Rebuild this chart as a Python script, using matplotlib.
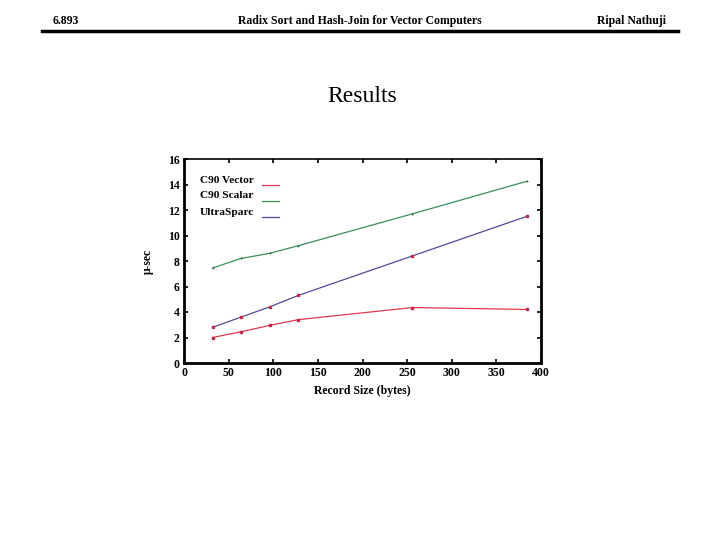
import matplotlib
matplotlib.use("Agg")
import matplotlib.pyplot as plt
from matplotlib.lines import Line2D

record_size = [32, 64, 96, 128, 256, 384]
c90_vector = [2.0, 2.45, 2.95, 3.4, 4.35, 4.2]
c90_scalar = [7.45, 8.2, 8.6, 9.2, 11.7, 14.25]
ultrasparc = [2.8, 3.6, 4.4, 5.3, 8.4, 11.5]
series_names = ["C90 Vector", "C90 Scalar", "UltraSparc"]
x_ticks = [0, 50, 100, 150, 200, 250, 300, 350, 400]
y_ticks = [0, 2, 4, 6, 8, 10, 12, 14, 16]

plt.rcParams['font.family'] = ['Liberation Serif', 'DejaVu Serif']

fig = plt.figure(figsize=(7.2, 5.4), dpi=100)
fig.patch.set_facecolor('white')

# Slide header
hdr_y = 1 - 21/540
fig.text(53/720, hdr_y, "6.893", fontsize=8.5, fontweight='bold', ha='left', va='center')
fig.text(360/720, hdr_y, "Radix Sort and Hash-Join for Vector Computers", fontsize=8.5,
         fontweight='bold', ha='center', va='center')
fig.text(666/720, hdr_y, "Ripal Nathuji", fontsize=8.5, fontweight='bold', ha='right', va='center')
fig.add_artist(Line2D([42/720, 678/720], [1 - 30.5/540, 1 - 30.5/540], transform=fig.transFigure,
                      color='black', lw=2.5))
fig.text(362/720, 1 - 97/540, "Results", fontsize=17, ha='center', va='center')

ax = fig.add_axes([184/720, 1 - 363/540, 357/720, 204/540])
colors = ['#e23a4c', '#3a8f5c', '#4c4c9c']
ax.plot(record_size, c90_vector, color=colors[0], lw=0.9, marker='s', ms=1.8, mfc='#c02848', mec='#c02848')
ax.plot(record_size, c90_scalar, color=colors[1], lw=0.9, marker='+', ms=2, mew=0.6, mec='#2a5a40')
ax.plot(record_size, ultrasparc, color=colors[2], lw=0.9, marker='s', ms=1.8, mfc='#c02848', mec='#c02848')

ax.set_xlim(0, 400)
ax.set_ylim(0, 16)
ax.set_xticks(x_ticks)
ax.set_yticks(y_ticks)
for s in ax.spines.values():
    s.set_linewidth(2)
ax.spines['top'].set_linewidth(1.2)
ax.tick_params(direction='in', top=True, right=True, length=3, width=1.2, labelsize=8.5, pad=3)
for lab in ax.get_xticklabels() + ax.get_yticklabels():
    lab.set_fontweight('bold')
ax.set_xlabel("Record Size (bytes)", fontsize=8.5, fontweight='bold', labelpad=4)
ax.set_ylabel("\u03bc-sec", fontsize=8.5, fontweight='bold', labelpad=10)

# Legend (text left, line right)
text_y = [0.897, 0.819, 0.740]
line_y = [0.873, 0.794, 0.716]
for name, c, ty, ly in zip(series_names, colors, text_y, line_y):
    ax.text(0.045, ty, name, transform=ax.transAxes, fontsize=8.2, fontweight='bold',
            ha='left', va='center')
    ax.plot([0.218, 0.266], [ly, ly], transform=ax.transAxes, color=c, lw=0.9)

fig.savefig("out.png", dpi=100)
